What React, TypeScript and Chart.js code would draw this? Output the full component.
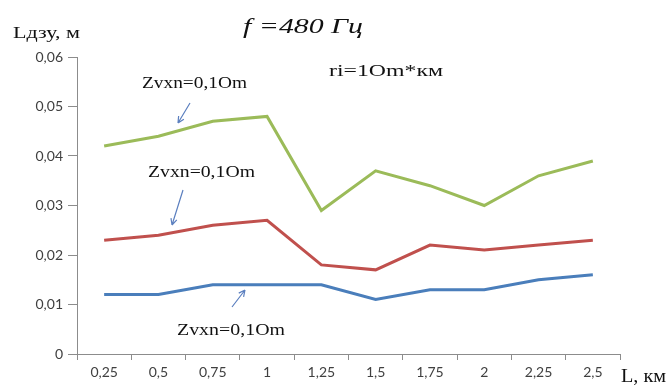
import React, { useEffect, useRef } from "react";
import { Chart, registerables } from "chart.js";

Chart.register(...registerables);

const categories = ["0,25", "0,5", "0,75", "1", "1,25", "1,5", "1,75", "2", "2,25", "2,5"];
const greenSeries = [0.042, 0.044, 0.047, 0.048, 0.029, 0.037, 0.034, 0.030, 0.036, 0.039];
const redSeries = [0.023, 0.024, 0.026, 0.027, 0.018, 0.017, 0.022, 0.021, 0.022, 0.023];
const blueSeries = [0.012, 0.012, 0.014, 0.014, 0.014, 0.011, 0.013, 0.013, 0.015, 0.016];
const yTickMin = 0;
const yTickMax = 0.06;
const yTickStep = 0.01;

const titleText = "f =480 Гц";
const yTitle = "Lдзу, м";
const xTitle = "L, км";
const riText = "ri=1Om*км";
const zText = "Zvxn=0,1Om";

function fitText(ctx: CanvasRenderingContext2D, s: string, x: number, baseline: number, font: string, targetW: number, color = "#111111") {
  ctx.save();
  ctx.font = font;
  ctx.fillStyle = color;
  ctx.textAlign = "left";
  ctx.textBaseline = "alphabetic";
  const w = ctx.measureText(s).width;
  const sx = targetW / w;
  ctx.translate(x, baseline);
  ctx.scale(sx, 1);
  ctx.fillText(s, 0, 0);
  ctx.restore();
}

function arrow(ctx: CanvasRenderingContext2D, x1: number, y1: number, x2: number, y2: number) {
  ctx.save();
  ctx.strokeStyle = "#5b7fbf";
  ctx.lineWidth = 1.2;
  ctx.beginPath();
  ctx.moveTo(x1, y1);
  ctx.lineTo(x2, y2);
  const a = Math.atan2(y2 - y1, x2 - x1);
  const h = 7;
  ctx.moveTo(x2, y2);
  ctx.lineTo(x2 - h * Math.cos(a - 0.45), y2 - h * Math.sin(a - 0.45));
  ctx.moveTo(x2, y2);
  ctx.lineTo(x2 - h * Math.cos(a + 0.45), y2 - h * Math.sin(a + 0.45));
  ctx.stroke();
  ctx.restore();
}

const annotations = {
  id: "annotations",
  afterDraw(chart: any) {
    const ctx = chart.ctx as CanvasRenderingContext2D;
    fitText(ctx, titleText, 243, 33, "italic 22px 'Liberation Serif'", 120);
    fitText(ctx, yTitle, 13, 38, "17px 'Liberation Serif'", 67);
    fitText(ctx, riText, 329, 76, "17px 'Liberation Serif'", 114);
    fitText(ctx, zText, 142, 88, "17px 'Liberation Serif'", 105);
    fitText(ctx, zText, 148, 177, "17px 'Liberation Serif'", 107);
    fitText(ctx, zText, 177, 335, "17px 'Liberation Serif'", 108);
    fitText(ctx, xTitle, 621, 382, "19px 'Liberation Serif'", 45);
    arrow(ctx, 190, 103, 178, 123);
    arrow(ctx, 183, 190, 172, 225);
    arrow(ctx, 232, 307, 245, 290);
  },
};

export default function App() {
  const ref = useRef<HTMLCanvasElement>(null);
  useEffect(() => {
    document.body.style.margin = "0";
    const canvas = ref.current!;
    const mk = (label: string, data: number[], color: string) => ({
      label,
      data,
      borderColor: color,
      backgroundColor: color,
      borderWidth: 3,
      pointRadius: 0,
      tension: 0,
      fill: false,
    });
    const chart = new Chart(canvas, {
      type: "line",
      data: {
        labels: categories,
        datasets: [
          mk("green", greenSeries, "#9bbb59"),
          mk("red", redSeries, "#c0504d"),
          mk("blue", blueSeries, "#4a7ebb"),
        ],
      },
      options: {
        animation: false,
        responsive: false,
        layout: { padding: { top: 57, right: 50, left: 0, bottom: 0 } },
        plugins: { legend: { display: false }, title: { display: false }, tooltip: { enabled: false } },
        scales: {
          x: {
            type: "category",
            offset: true,
            grid: { display: true, offset: true, drawOnChartArea: false, tickLength: 6, color: "#8c8c8c" },
            border: { display: true, color: "#8c8c8c", width: 1 },
            ticks: {
              color: "#404040",
              font: { family: "Lato", size: 14 },
              padding: 4,
              maxRotation: 0,
              autoSkip: false,
            },
            afterFit: (s: any) => {
              s.height = 31;
            },
          },
          y: {
            min: yTickMin,
            max: yTickMax,
            grid: { display: true, drawOnChartArea: false, tickLength: 9, color: "#8c8c8c" },
            border: { display: true, color: "#8c8c8c", width: 1 },
            ticks: {
              stepSize: yTickStep,
              color: "#404040",
              font: { family: "Lato", size: 14 },
              padding: 5,
              callback: (v: any) => {
                const n = Number(v);
                if (Math.abs(n) < 1e-9) return "0";
                return n.toFixed(2).replace(".", ",");
              },
            },
            afterFit: (s: any) => {
              s.width = 77;
            },
          },
        },
      },
      plugins: [annotations],
    });
    return () => chart.destroy();
  }, []);
  return (
    <div style={{ width: 670, height: 385, background: "#fff" }}>
      <canvas ref={ref} width={670} height={385} />
    </div>
  );
}
